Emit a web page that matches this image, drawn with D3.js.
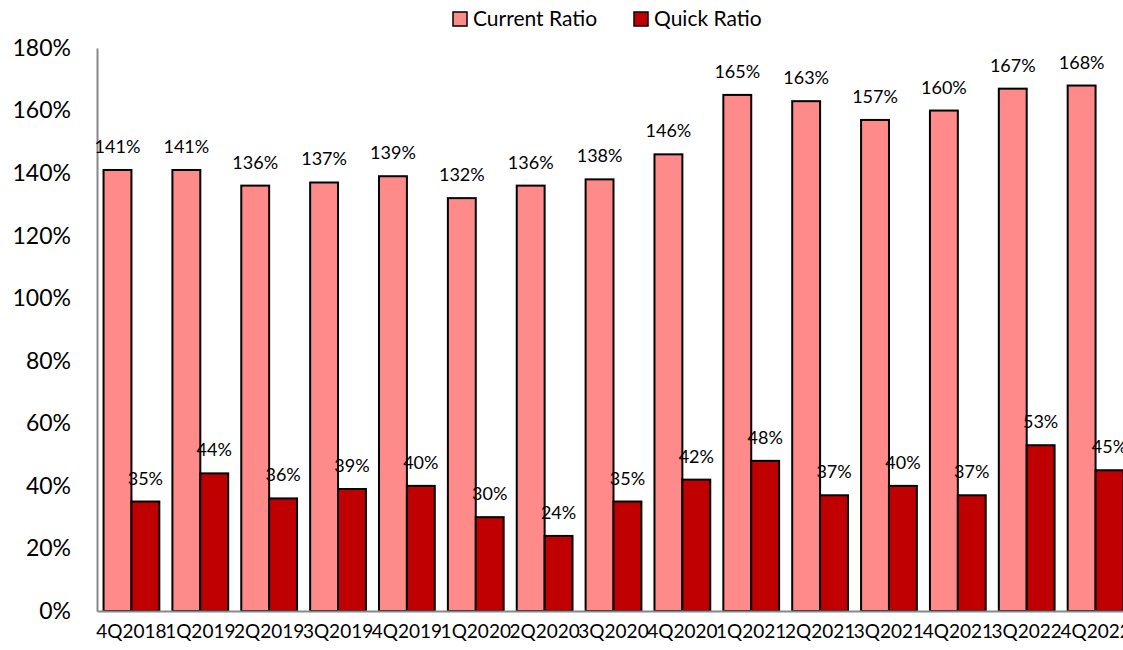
<!DOCTYPE html>
<html>
<head>
<meta charset="utf-8">
<script src="https://cdn.jsdelivr.net/npm/d3@7"></script>
<style>
  body { margin: 0; background: #fff; }
  svg { display: block; font-family: Lato, 'Open Sans', sans-serif; }
</style>
</head>
<body>
<script>
const categories = ['4Q2018', '1Q2019', '2Q2019', '3Q2019', '4Q2019', '1Q2020', '2Q2020', '3Q2020',
  '4Q2020', '1Q2021', '2Q2021', '3Q2021', '4Q2021', '3Q2022', '4Q2022']
const currentRatio = [141, 141, 136, 137, 139, 132, 136, 138, 146, 165, 163, 157, 160, 167, 168]
const quickRatio = [35, 44, 36, 39, 40, 30, 24, 35, 42, 48, 37, 40, 37, 53, 45]
const seriesNames = ['Current Ratio', 'Quick Ratio']
const yTicks = [0, 20, 40, 60, 80, 100, 120, 140, 160, 180]

function RatioChart() {
  const SVG_WIDTH = 1123
  const SVG_HEIGHT = 650
  const MARGIN = { LEFT: 97, RIGHT: -7, TOP: 48, BOTTOM: 39 }
  const CHART_WIDTH = SVG_WIDTH - MARGIN.LEFT - MARGIN.RIGHT
  const CHART_HEIGHT = SVG_HEIGHT - MARGIN.TOP - MARGIN.BOTTOM
  const COLORS = ['#ff8a8a', '#c00000']

  const svg = d3.select('body')
    .append('svg')
    .attr('width', SVG_WIDTH)
    .attr('height', SVG_HEIGHT)

  const scaleY = d3.scaleLinear()
    .domain([0, 180])
    .range([CHART_HEIGHT, 0])

  const scaleX = d3.scaleBand()
    .domain(categories)
    .range([0, CHART_WIDTH])
    .paddingInner(0.19)
    .paddingOuter(0.095)

  const scaleSeries = d3.scaleBand()
    .domain(seriesNames)
    .range([0, scaleX.bandwidth()])

  const chart = svg.append('g')
    .attr('transform', `translate(${MARGIN.LEFT}, ${MARGIN.TOP})`)

  // y axis labels, no ticks
  const yAxis = d3.axisLeft(scaleY)
    .tickValues(yTicks)
    .tickFormat(d => d + '%')
    .tickSize(0)
    .tickPadding(26)

  const yG = chart.append('g').call(yAxis)
  yG.select('.domain').attr('stroke', '#888').attr('stroke-width', 2)
  yG.selectAll('text')
    .attr('font-size', '23px')
    .attr('fill', '#000')
    .attr('font-family', 'Lato, sans-serif')

  // groups of bars
  const rows = categories.map((c, i) => ({ cat: c, values: [currentRatio[i], quickRatio[i]] }))

  const groups = chart.append('g')
    .selectAll('g')
    .data(rows)
    .enter()
    .append('g')
    .attr('transform', d => `translate(${scaleX(d.cat)}, 0)`)

  groups.selectAll('rect')
    .data(d => d.values.map((v, j) => ({ name: seriesNames[j], v: v, j: j })))
    .enter()
    .append('rect')
    .attr('x', d => scaleSeries(d.name))
    .attr('y', d => scaleY(d.v))
    .attr('width', scaleSeries.bandwidth())
    .attr('height', d => CHART_HEIGHT - scaleY(d.v))
    .attr('fill', d => COLORS[d.j])
    .attr('stroke', '#000')
    .attr('stroke-width', 2)

  groups.selectAll('text')
    .data(d => d.values.map((v, j) => ({ name: seriesNames[j], v: v, j: j })))
    .enter()
    .append('text')
    .attr('x', d => scaleSeries(d.name) + scaleSeries.bandwidth() / 2)
    .attr('y', d => scaleY(d.v) - 17)
    .attr('text-anchor', 'middle')
    .attr('font-size', '18px')
    .attr('fill', '#000')
    .text(d => d.v + '%')

  // x axis
  const xAxis = d3.axisBottom(scaleX).tickSize(0).tickPadding(14)
  const xG = chart.append('g')
    .attr('transform', `translate(0, ${CHART_HEIGHT})`)
    .call(xAxis)
  xG.select('.domain').attr('stroke', '#888').attr('stroke-width', 2)
  xG.selectAll('text')
    .attr('font-size', '19px')
    .attr('fill', '#000')
    .attr('font-family', 'Lato, sans-serif')

  // legend
  const legend = svg.append('g')
  const legendX = [453, 634]
  seriesNames.forEach((name, i) => {
    legend.append('rect')
      .attr('x', legendX[i])
      .attr('y', 12)
      .attr('width', 14)
      .attr('height', 14)
      .attr('fill', COLORS[i])
      .attr('stroke', '#000')
      .attr('stroke-width', 1.5)
    legend.append('text')
      .attr('x', legendX[i] + 20)
      .attr('y', 26)
      .attr('font-size', '21px')
      .attr('fill', '#000')
      .text(name)
  })
}

RatioChart()
</script>
</body>
</html>
